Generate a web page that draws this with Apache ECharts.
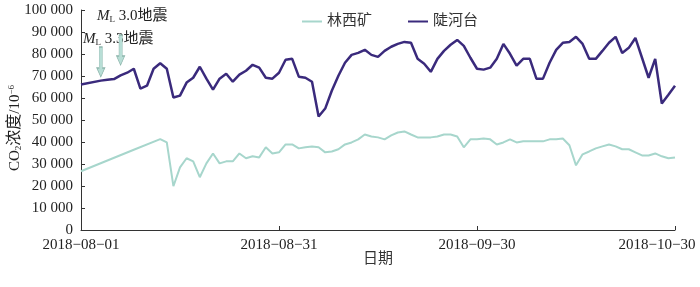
<!DOCTYPE html>
<html><head><meta charset="utf-8">
<script src="https://cdn.jsdelivr.net/npm/echarts@6/dist/echarts.min.js"></script>
<style>html,body{margin:0;padding:0;background:#fff}#c{width:700px;height:287px}</style>
</head><body><div id="c"></div>
<script>
// ---- data ----
const dayCount = 91; // 2018-08-01 .. 2018-10-30
const labelDates = ['2018-08-01', '2018-08-31', '2018-09-30', '2018-10-30'];
const seriesNames = ['林西矿', '陡河台'];
const linxi = [
  26700, null, null, null, null, null, null, null, 36500, null,
  null, null, 41300, 39800, 19900, 28500, 32600, 31200, 24000, 30300,
  34800, 30300, 31200, 31200, 34800, 32600, 33500, 33000, 37600, 34800,
  35300, 38900, 38900, 37100, 37600, 38000, 37600, 35300, 35700, 36700,
  38900, 39800, 41200, 43400, 42500, 42100, 41200, 43000, 44300, 44800,
  43400, 42100, 42100, 42100, 42500, 43400, 43400, 42500, 37600, 41200,
  41200, 41600, 41200, 38900, 39800, 41200, 39800, 40300, 40300, 40300,
  40300, 41200, 41200, 41600, 38500, 29400, 34400, 35700, 37100, 38000,
  38900, 38000, 36700, 36700, 35300, 33900, 33900, 34800, 33500, 32600,
  33000
];
const douhetai = [
  66100, null, null, 67900, 68300, 68600, 70300, 71500, 73300, 64300,
  65600, 73300, 75800, 73300, 60200, 61100, 67000, 69200, 74200, 68800,
  63800, 68800, 71000, 67400, 70600, 72400, 75100, 73800, 69200, 68800,
  71500, 77400, 77800, 69700, 69200, 67400, 51600, 55200, 63300, 70100,
  76000, 79600, 80500, 81900, 79600, 78700, 81400, 83300, 84600, 85500,
  85100, 77800, 75600, 71900, 77800, 81400, 84200, 86400, 83700, 78300,
  73300, 72900, 73800, 77800, 84600, 80100, 74700, 77800, 77800, 68800,
  68800, 76000, 81900, 85100, 85500, 87800, 84600, 77800, 77800, 81400,
  85100, 87800, 80500, 82800, 87300, 78300, 69200, 77800, 57500, 61500,
  65600
];
const eventDates = ['2018-08-04', '2018-08-07'];
const eventArrowValues = [76400, 81800];
const eventTexts = ['3.3地震', '3.0地震'];

// categories
const dates = [];
for (let i = 0; i < dayCount; i++) {
  dates.push(new Date(Date.UTC(2018, 7, 1 + i)).toISOString().slice(0, 10));
}

const SERIF = "'Liberation Serif','Noto Sans CJK SC',serif";
const TXT = '#222';

const chart = echarts.init(document.getElementById('c'));
const fmtY = v => {
  const s = String(v);
  return s.length > 3 ? s.slice(0, s.length - 3) + ' ' + s.slice(-3) : s;
};
const annoRich = {
  i: {fontFamily: SERIF, fontSize: 15, fontStyle: 'italic', fill: TXT, color: TXT},
  s: {fontFamily: SERIF, fontSize: 9, fill: TXT, color: TXT, verticalAlign: 'bottom', padding: [6, 0, 0, 0]},
  n: {fontFamily: SERIF, fontSize: 15, fill: TXT, color: TXT}
};
chart.setOption({
  animation: false,
  grid: {left: 81, right: 25, top: 10, bottom: 57, outerBoundsMode: 'none', containLabel: false},
  legend: {
    data: seriesNames, left: 297, top: 9, itemWidth: 20, itemHeight: 2, itemGap: 36,
    icon: 'rect',
    textStyle: {fontSize: 15, fontFamily: SERIF, color: '#333'}
  },
  xAxis: {
    type: 'category', data: dates, boundaryGap: false,
    axisLine: {lineStyle: {color: '#333', width: 1}},
    axisTick: {inside: true, length: 4, interval: (i, v) => labelDates.includes(v), lineStyle: {color: '#333'}},
    axisLabel: {
      interval: (i, v) => labelDates.includes(v),
      formatter: v => {
        const t = v.replace(/-/g, '−');
        return v === labelDates[labelDates.length - 1] ? '{last|' + t + '}' : t;
      },
      rich: {last: {padding: [0, 36, 0, 0], fontSize: 15, fontFamily: SERIF, color: TXT}},
      fontSize: 15, fontFamily: SERIF, color: TXT, margin: 8
    },
    name: '日期', nameLocation: 'middle', nameGap: 20, nameMoveOverlap: false,
    nameTextStyle: {fontSize: 15, fontFamily: "'Noto Sans CJK SC'", color: '#333', verticalAlign: 'top'}
  },
  yAxis: {
    type: 'value', min: 0, max: 100000, interval: 10000,
    axisLine: {show: true, lineStyle: {color: '#333', width: 1}},
    axisTick: {show: true, inside: true, length: 4, lineStyle: {color: '#333'}},
    splitLine: {show: false},
    axisLabel: {formatter: fmtY, fontSize: 15, fontFamily: SERIF, color: TXT, margin: 8},
    name: '{t|CO}{s|2}{c|浓度}{t|/10}{p|−6}', nameLocation: 'middle', nameGap: 58, nameRotate: 90,
    nameMoveOverlap: false,
    nameTextStyle: {
      padding: [0, 16, 0, 0],
      rich: {
        t: {fontSize: 15, fontFamily: SERIF, color: TXT},
        c: {fontSize: 16, fontFamily: SERIF, color: TXT},
        s: {fontSize: 9, fontFamily: SERIF, color: TXT, verticalAlign: 'bottom', padding: [6, 0, 0, 0]},
        p: {fontSize: 9, fontFamily: SERIF, color: TXT, verticalAlign: 'top', padding: [0, 0, 6, 0]}
      }
    }
  },
  series: [
    {
      name: seriesNames[0], type: 'line', data: linxi, connectNulls: true,
      symbol: 'none', showSymbol: false,
      lineStyle: {width: 2, color: '#a7d6cc'}, itemStyle: {color: '#a7d6cc'},
      markPoint: {
        silent: true,
        symbol: 'path://M3,0L7,0L7,21L10,21L5,30L0,21L3,21Z',
        symbolSize: [8, 30],
        itemStyle: {color: '#b8ded6', borderColor: '#8db5ac', borderWidth: 0.8},
        label: {show: false},
        data: eventDates.map((d, i) => ({coord: [d, eventArrowValues[i]]}))
      }
    },
    {
      name: seriesNames[1], type: 'line', data: douhetai, connectNulls: true,
      symbol: 'none', showSymbol: false,
      lineStyle: {width: 2.5, color: '#3a2a7c'}, itemStyle: {color: '#3a2a7c'}
    }
  ],
  graphic: [
    {type: 'text', left: 97, top: 9, style: {text: '{i|M}{s|L}{n| ' + eventTexts[1] + '}', rich: annoRich}},
    {type: 'text', left: 83, top: 32, style: {text: '{i|M}{s|L}{n| ' + eventTexts[0] + '}', rich: annoRich}}
  ]
});
</script></body></html>
